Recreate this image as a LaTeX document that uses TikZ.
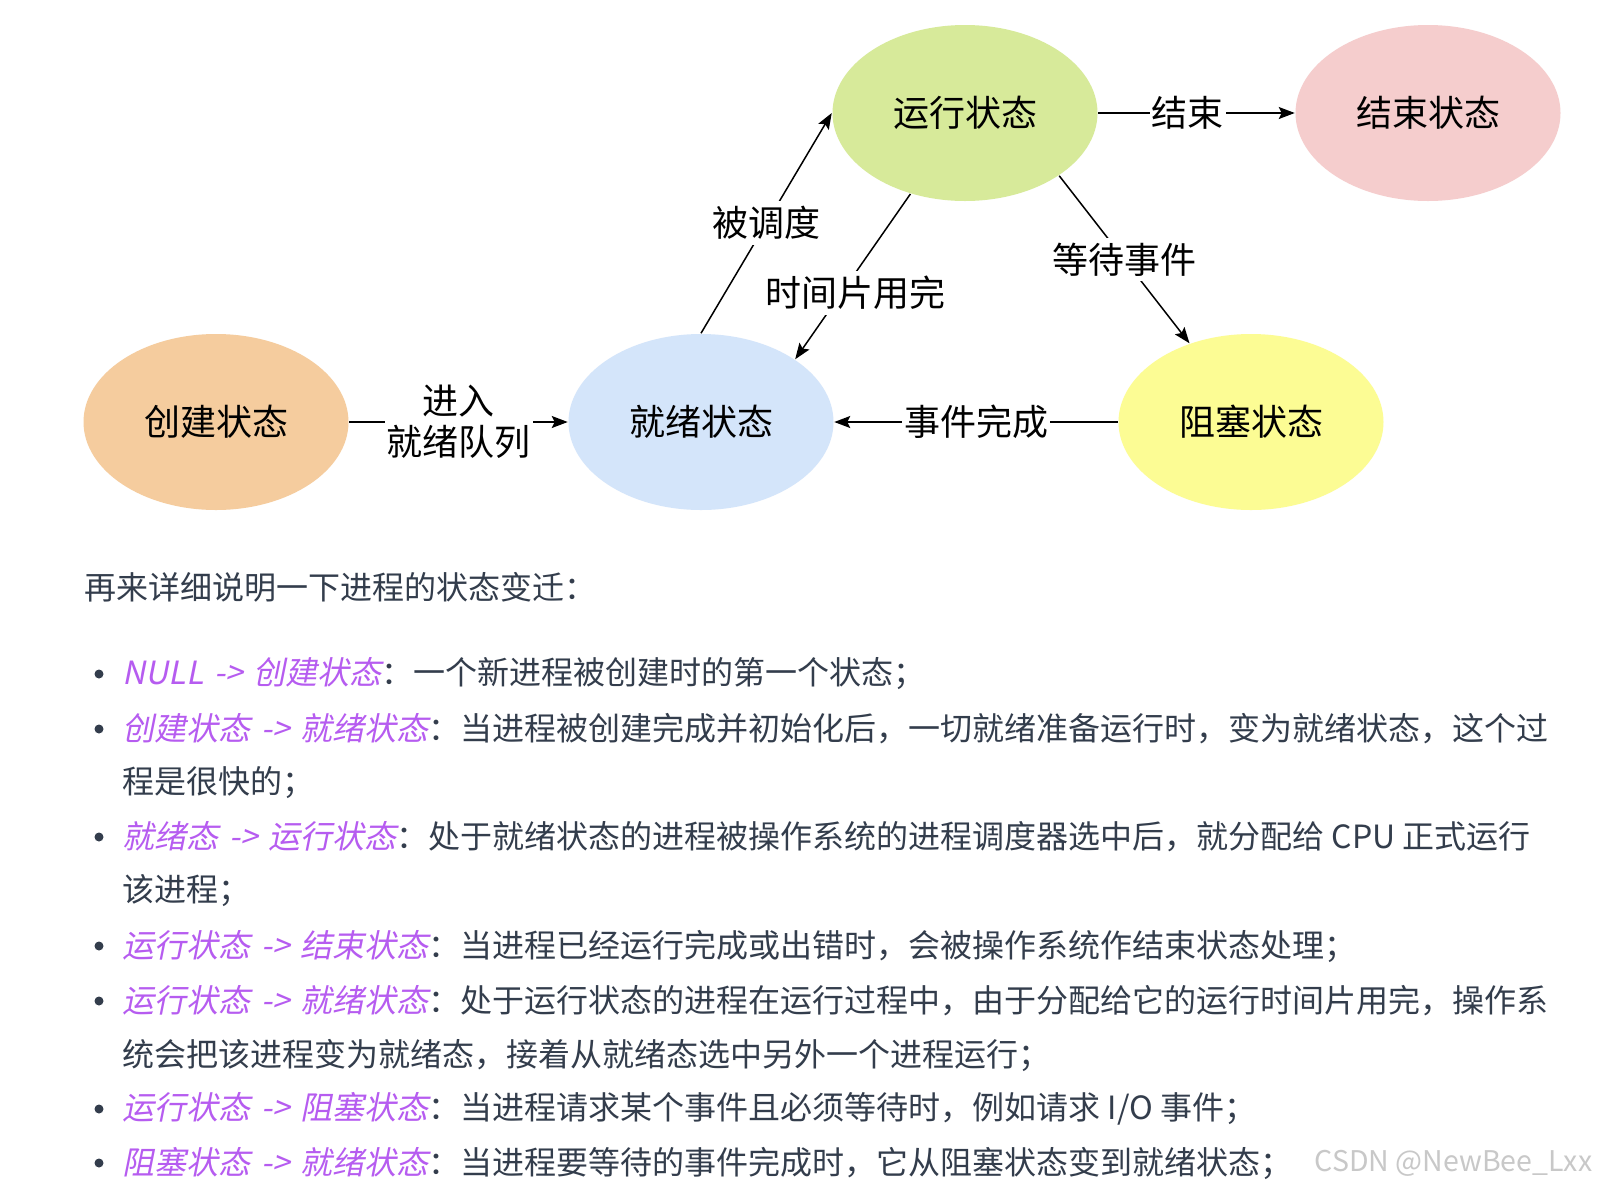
\documentclass[tikz,border=0pt]{standalone}
\usepackage{fontspec}
\setmainfont{Noto Sans CJK SC}
\newfontfamily\slantcjk[FakeSlant=0.2]{Noto Sans CJK SC}
\usetikzlibrary{arrows.meta, shapes.geometric}
\definecolor{corange}{HTML}{F5CC9E}
\definecolor{cblue}{HTML}{D4E5FA}
\definecolor{cgreen}{HTML}{D7EA9A}
\definecolor{cpink}{HTML}{F5CDCD}
\definecolor{cyellow}{HTML}{FCFC94}
\definecolor{cpurple}{HTML}{B65CF0}
\definecolor{ctext}{HTML}{333D4C}
\definecolor{cmark}{HTML}{C8C8C8}
\tikzset{
  every picture/.style={line width=1.5pt},
  state/.style={ellipse, draw=none, fill=#1, minimum width=265pt, minimum height=176pt, font=\fontsize{36}{42}\selectfont},
  arrow/.style={-{Stealth[length=16pt, width=12pt, inset=3pt]}, draw=black, line width=1.5pt},
  edgelabel/.style={fill=white, inner xsep=2pt, inner ysep=5pt, align=center, font=\fontsize{36}{41}\selectfont},
  bodyline/.style={anchor=west, inner sep=0pt, text=ctext, font=\fontsize{32}{38}\selectfont},
  dot/.style={circle, fill=ctext, inner sep=0pt, minimum size=9pt},
}
\newcommand{\statepair}[2]{\textcolor{cpurple}{\slantcjk #1\hspace{0.33em}->\hspace{0.33em}#2}}

\begin{document}
\begin{tikzpicture}[x=1pt, y=-1pt]
  \useasboundingbox[fill=white] (0,0) rectangle (1598,1192);
  % states
  \node[state=corange] (create) at (216,422) {创建状态};
  \node[state=cblue] (ready) at (701,422) {就绪状态};
  \node[state=cgreen] (run) at (965,113) {运行状态};
  \node[state=cpink] (finish) at (1428,113) {结束状态};
  \node[state=cyellow] (block) at (1251,422) {阻塞状态};
  % transitions
  \draw[arrow] (create) -- node[edgelabel] {进入\\就绪队列} (ready);
  \draw[arrow] (ready.north) -- node[edgelabel] {被调度} (run.west);
  \draw[arrow] (run.236) -- node[edgelabel, pos=0.6, xshift=14pt] {时间片用完} (ready.north east);
  \draw[arrow] (run) -- node[edgelabel, xshift=-9pt] {结束} (finish);
  \draw[arrow] (run.south east) -- node[edgelabel] {等待事件} (block.128);
  \draw[arrow] (block) -- node[edgelabel] {事件完成} (ready);
  % text below
  \node[bodyline] (intro) at (84,587) {再来详细说明一下进程的状态变迁：};
  \foreach \y in {674,729,837,946,1001,1109,1163}
    \node[dot] at (99,\y) {};
  \node[bodyline] (t1) at (122,674) {\statepair{NULL}{创建状态}：一个新进程被创建时的第一个状态；};
  \node[bodyline] (t2) at (122,729) {\statepair{创建状态}{就绪状态}：当进程被创建完成并初始化后，一切就绪准备运行时，变为就绪状态，这个过};
  \node[bodyline] (t2b) at (122,783) {程是很快的；};
  \node[bodyline] (t3) at (122,837) {\statepair{就绪态}{运行状态}：处于就绪状态的进程被操作系统的进程调度器选中后，就分配给 CPU 正式运行};
  \node[bodyline] (t3b) at (122,891) {该进程；};
  \node[bodyline] (t4) at (122,946) {\statepair{运行状态}{结束状态}：当进程已经运行完成或出错时，会被操作系统作结束状态处理；};
  \node[bodyline] (t5) at (122,1001) {\statepair{运行状态}{就绪状态}：处于运行状态的进程在运行过程中，由于分配给它的运行时间片用完，操作系};
  \node[bodyline] (t5b) at (122,1055) {统会把该进程变为就绪态，接着从就绪态选中另外一个进程运行；};
  \node[bodyline] (t6) at (122,1109) {\statepair{运行状态}{阻塞状态}：当进程请求某个事件且必须等待时，例如请求 I/O 事件；};
  \node[bodyline] (t7) at (122,1163) {\statepair{阻塞状态}{就绪状态}：当进程要等待的事件完成时，它从阻塞状态变到就绪状态；};
  \node[bodyline, text=cmark, font=\fontsize{28.5}{34}\selectfont] (mark) at (1314,1163) {CSDN @NewBee\_Lxx};
\end{tikzpicture}
\end{document}
